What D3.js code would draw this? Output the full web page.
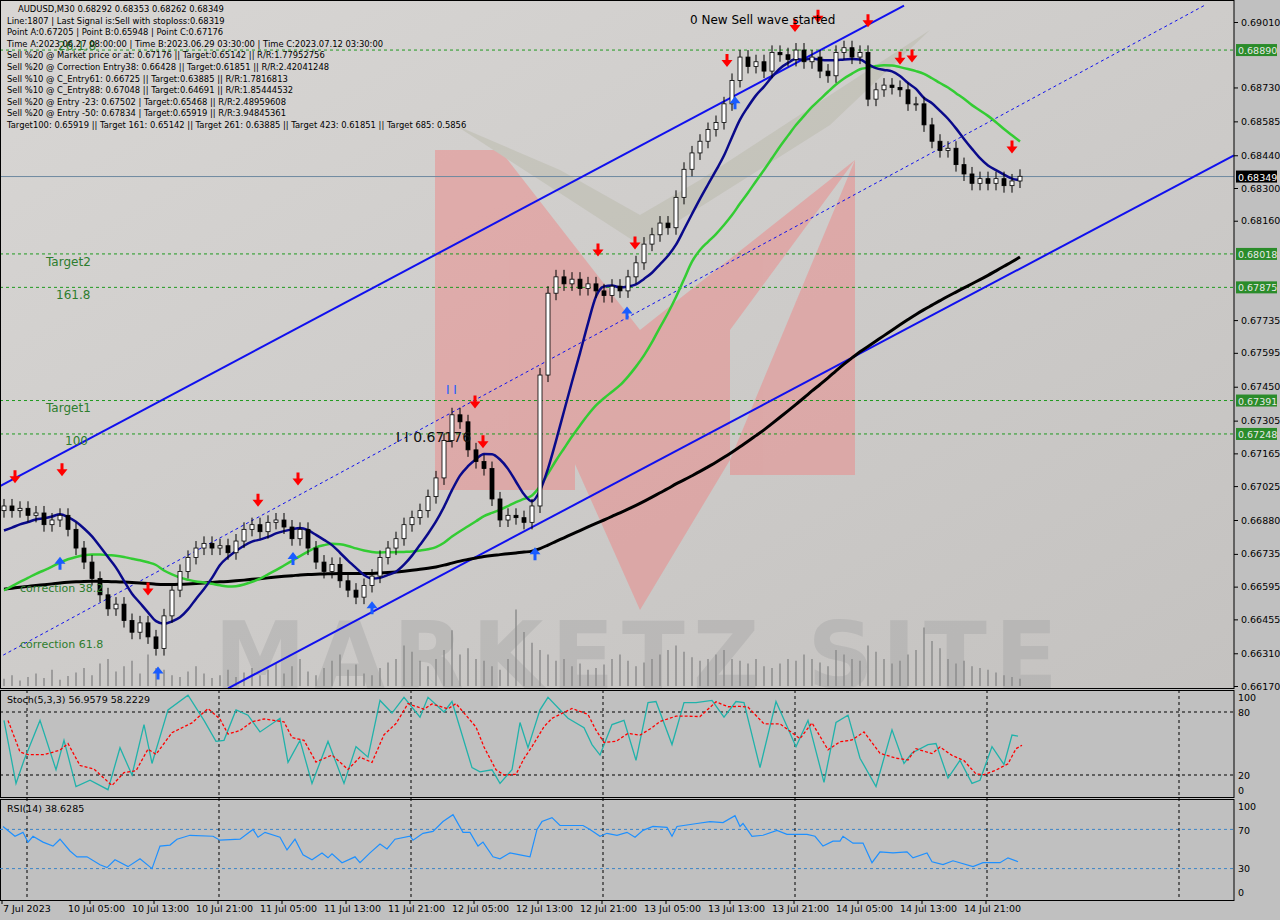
<!DOCTYPE html>
<html><head><meta charset="utf-8">
<script src="https://cdn.jsdelivr.net/npm/d3@7"></script>
<style>
body{margin:0;background:#fff;font-family:Tahoma,"DejaVu Sans",sans-serif}
svg text{font-family:"DejaVu Sans",sans-serif}
</style></head><body>
<script>
// hourly closes, one every 2 half-hour bars
var closes = [0.6694,0.6692,0.6693,0.6690,0.6691,0.6686,0.6688,0.6690,0.6684,0.6676,
0.6670,0.6663,0.6656,0.6650,0.6652,0.6645,0.6640,0.6644,0.6638,0.6633,
0.6647,0.6658,0.6666,0.6672,0.6676,0.6678,0.6676,0.6677,0.6674,0.6679,
0.6684,0.6686,0.6683,0.6687,0.6688,0.6685,0.6680,0.6684,0.6676,0.6670,
0.6666,0.6669,0.6662,0.6658,0.6655,0.6660,0.6664,0.6672,0.6676,0.6680,
0.6686,0.6689,0.6692,0.6698,0.6706,0.6722,0.6733,0.6730,0.6718,0.6713,
0.6710,0.6697,0.6688,0.6690,0.6689,0.6687,0.6694,0.6750,0.6785,0.6792,
0.6789,0.6791,0.6787,0.6789,0.6786,0.6784,0.6788,0.6786,0.6792,0.6798,
0.6806,0.6810,0.6815,0.6813,0.6826,0.6838,0.6845,0.6850,0.6855,0.6858,
0.6866,0.6876,0.6886,0.6882,0.6884,0.6880,0.6888,0.6887,0.6885,0.6889,
0.6884,0.6886,0.6880,0.6878,0.6888,0.6890,0.6886,0.6888,0.6868,0.6872,
0.6874,0.6873,0.6872,0.6866,0.6866,0.6857,0.6850,0.6846,0.6847,0.6840,
0.6836,0.6832,0.6834,0.6832,0.6834,0.6831,0.6833,0.6835];
var volume = [8,12,6,10,14,9,18,7,11,15,20,12,25,30,16,22,28,14,35,20,
18,12,10,16,22,14,9,12,18,10,15,20,12,18,25,14,22,30,16,12,
20,28,35,18,24,14,12,20,26,30,45,38,28,22,30,40,62,35,42,30,
28,22,18,30,85,60,48,40,35,28,30,22,25,18,20,24,30,35,28,22,
26,30,35,40,45,38,32,28,30,35,40,30,28,25,30,22,20,25,30,28,
35,30,26,22,40,35,30,28,45,38,30,25,28,35,40,65,50,42,30,25,
28,22,20,18,15,12,10,8];
var priceTicks = [0.69010,0.68730,0.68585,0.68440,0.68300,0.68160,0.67735,0.67595,0.67450,0.67305,0.67165,0.67025,0.66880,0.66735,0.66595,0.66455,0.66310,0.66170];
var levels = [0.68890,0.68018,0.67875,0.67391,0.67248];
var lastPrice = 0.68349;
var timeLabels = ["7 Jul 2023","10 Jul 05:00","10 Jul 13:00","10 Jul 21:00","11 Jul 05:00","11 Jul 13:00","11 Jul 21:00","12 Jul 05:00","12 Jul 13:00","12 Jul 21:00","13 Jul 05:00","13 Jul 13:00","13 Jul 21:00","14 Jul 05:00","14 Jul 13:00","14 Jul 21:00"];
var timeLabelPos = [0.5,22.5,38.5,54.5,70.5,86.5,102.5,118.5,134.5,150.5,166.5,182.5,198.5,214.5,230.5,246.5];
var gridPos = [6.75,54.75,102.75,150.75,198.75,246.75,294.75];
var stochPos = [1,4,6,10,14,16,19,22.5,27,30,33,36,38,42,47,51,54,56,59,62,65,70,72,75,78,82,86,89,92,95,98,101,105,107,111,113,118,120,123,125,128,130,
132,135,137,142,146,148,150,153,156,159,162,164,168,171,174,178,181,184,186,190,194,199,202,206,209,212,215,219,223,226,228,232,234,237,240,243,245,248,251,253,254.5];
var stochK = [72,12,34,72,25,53,9,15,6,46,20,68,31,82,96,72,52,53,82,77,61,74,32,53,12,52,12,47,37,91,79,94,75,94,80,90,27,23,25,12,25,70,
46,82,94,74,65,49,39,68,72,34,89,90,49,89,89,91,75,90,89,27,90,47,72,13,70,77,36,9,63,31,41,49,50,17,34,12,15,47,30,58,57];
var rsiPos = [0.75,3.75,5.75,7,8.25,10.75,13.25,15,17.5,19.25,21.75,25,26.75,28.75,32,35,38,40,42.5,44.25,47.5,53.25,55,60,63.25,64.5,66.25,70,71.75,73.75,75.75,78,80.5,82,83,85.5,88.75,90,92.5,95,96.75,98.75,102.5,103.25,105.75,108.25,110.75,113.25,115.75,117.5,119.5,120.75,123.25,125,127.5,130,
132.5,134.25,135.5,138,140,145.75,147.5,150,151.75,154.25,156.75,158.75,160.75,163.25,166.75,168,169.25,174.25,177.5,180.75,183.75,185,185.75,188,190.75,194.25,196.75,201.75,203.75,205.75,208.25,210,210.75,213.25,215.75,218,220,223.25,226.75,228.25,231.75,233,235.75,238.25,243.25,245.75,250,252,254.5];
var rsiVal = [73,63,67,57,63,57,53,60,48,42,42,34,31,39,32,40,30,53,54,60,64,63,59,60,70,62,67,62,49,60,44,39,46,41,45,36,42,36,46,55,50,60,63,59,66,68,78,85,67,67,53,57,42,40,46,44,
42,70,78,82,74,74,70,63,66,64,67,62,69,73,72,63,73,76,78,77,84,73,76,63,64,69,65,65,63,53,58,58,63,56,56,36,47,46,47,41,46,37,34,38,32,36,36,41,37];
var sellArrowPos = [3.75,15.5,37,64.5,74.5,118.75,120.75,149.5,158.75,181.75,198.75,204.5,217,225,228,253];
var sellArrowPrice = [0.6699,0.6702,0.6651,0.6689,0.6698,0.6731,0.6714,0.6796,0.6799,0.6877,0.6892,0.6896,0.6894,0.6878,0.6879,0.6840];
var buyArrowPos = [15,39.5,73.25,93,133.75,156.75,183.75];
var buyArrowPrice = [0.6677,0.6630,0.6679,0.6658,0.6681,0.6784,0.6874];
// channel lines: [pos, price] pairs
var chUpper = [[-0.5,0.6702],[226,0.6908]];
var chLower = [[57,0.6616],[308.5,0.6844]];
var chMid = [[-0.5,0.6629],[301,0.6908]];

var W = 1280, H = 920, plotR = 1234;
var svg = d3.select("body").append("svg").attr("width", W).attr("height", H);

var defs = svg.append("defs");
var gr = defs.append("linearGradient").attr("id","bg").attr("x1","0").attr("y1","0").attr("x2","1").attr("y2","1");
gr.append("stop").attr("offset","0").attr("stop-color","#d8d6d4");
gr.append("stop").attr("offset","1").attr("stop-color","#c4c2c0");

svg.append("rect").attr("width",W).attr("height",H).attr("fill","#c0c0c0");
svg.append("rect").attr("x",0).attr("y",0).attr("width",plotR).attr("height",688).attr("fill","url(#bg)");

var x = d3.scaleLinear().domain([0, 308.5]).range([0, plotR]);
var y = d3.scaleLinear().domain([0.66170, 0.69010]).range([686, 22]);
var yS = d3.scaleLinear().domain([0,100]).range([796, 691]);
var yR = d3.scaleLinear().domain([0,100]).range([898, 800]);

var main = svg.append("g");

// watermark
var wm = main.append("g").attr("opacity",0.45);
wm.append("path").attr("d","M435,150 L500,150 L640,330 L640,610 Z M435,150 L575,330 L575,490 L435,490 Z").attr("fill","#f08080");
wm.append("path").attr("d","M855,160 L855,475 L730,475 L730,330 Z M855,160 L640,330 L640,610 L730,460 Z").attr("fill","#f08080");
wm.append("path").attr("d","M455,125 L640,245 L830,125 L930,30 L700,180 L640,215 L560,170 Z").attr("fill","#b8b8a8");
wm.append("text").attr("x",640).attr("y",688).attr("text-anchor","middle").attr("font-size",92).attr("font-weight","bold")
  .attr("fill","#a8a8a8").attr("letter-spacing",8).text("MARKETZ SITE");

// volumes
var vy = d3.scaleLinear().domain([0,100]).range([686, 596]);
main.selectAll(".vol").data(volume).enter().append("line")
  .attr("x1",(d,i)=>x(1+2*i)).attr("x2",(d,i)=>x(1+2*i))
  .attr("y1",686).attr("y2",d=>vy(d)).attr("stroke","#8c8c8c").attr("stroke-width",1.5);

// levels
levels.forEach(function(l){
  main.append("line").attr("x1",0).attr("x2",plotR).attr("y1",y(l)).attr("y2",y(l))
    .attr("stroke","#1f9a1f").attr("stroke-dasharray","3,3");
});
main.append("line").attr("x1",0).attr("x2",plotR).attr("y1",y(lastPrice)).attr("y2",y(lastPrice))
  .attr("stroke","#6f8aa0").attr("stroke-width",1);

// channels
var chLine = d3.line().x(d=>x(d[0])).y(d=>y(d[1]));
main.append("path").attr("d",chLine(chUpper)).attr("stroke","#1010ee").attr("stroke-width",2).attr("fill","none");
main.append("path").attr("d",chLine(chLower)).attr("stroke","#1010ee").attr("stroke-width",2).attr("fill","none");
main.append("path").attr("d",chLine(chMid)).attr("stroke","#1010ee").attr("stroke-width",1).attr("stroke-dasharray","3,3").attr("fill","none");

// moving averages
function sma(n, pad){
  var src = d3.range(n).map(()=>pad).concat(closes);
  return closes.map((c,i)=>d3.mean(src.slice(i+1, i+n+1)));
}
var ln = d3.line().x((d,i)=>x(1+2*i)).y(d=>y(d)).curve(d3.curveMonotoneX);
main.append("path").attr("d",ln(sma(85,0.6658))).attr("stroke","#000").attr("stroke-width",3).attr("fill","none");
main.append("path").attr("d",ln(sma(20,0.6656))).attr("stroke","#33cc33").attr("stroke-width",2.5).attr("fill","none");
main.append("path").attr("d",ln(sma(8,0.6682))).attr("stroke","#0a0a8a").attr("stroke-width",2.5).attr("fill","none");

// candles
var cg = main.append("g");
closes.forEach(function(c,i){
  var o = i ? closes[i-1] : c - 0.0002;
  var hi = Math.max(o,c) + 0.0003, lo = Math.min(o,c) - 0.0003;
  var cx = x(1+2*i);
  cg.append("line").attr("x1",cx).attr("x2",cx).attr("y1",y(hi)).attr("y2",y(lo)).attr("stroke","#000");
  cg.append("rect").attr("x",cx-2).attr("width",4)
    .attr("y",y(Math.max(o,c))).attr("height",Math.max(1,Math.abs(y(o)-y(c))))
    .attr("fill",c>=o?"#fff":"#000").attr("stroke","#000").attr("stroke-width",0.8);
});

// arrows
sellArrowPos.forEach(function(p,i){
  var ax = x(p), ay = y(sellArrowPrice[i]) - 16;
  main.append("path").attr("d",`M${ax-1.5},${ay-8} h3 v6 h4 l-5.5,7 l-5.5,-7 h4 z`).attr("fill","#f00");
});
buyArrowPos.forEach(function(p,i){
  var ax = x(p), ay = y(buyArrowPrice[i]) + 16;
  main.append("path").attr("d",`M${ax-1.5},${ay+8} h3 v-6 h4 l-5.5,-7 l-5.5,7 h4 z`).attr("fill","#1a5cff");
});

// labels on chart
function t(g,xx,yy,s,col,size){ return g.append("text").attr("x",xx).attr("y",yy).attr("font-size",size||11).attr("fill",col||"#000").text(s); }
t(main,46,266,"Target2","#2e7d2e",12); t(main,56,299,"161.8","#2e7d2e",12);
t(main,46,412,"Target1","#2e7d2e",12); t(main,65,445,"100","#2e7d2e",12);
t(main,20,592,"correction 38.2","#2e7d2e",11); t(main,20,648,"correction 61.8","#2e7d2e",11);
t(main,396,442,"I I 0.67176","#111",14);
t(main,446,394,"I I","#1a5cff",12);
t(main,690,24,"0 New Sell wave started","#000",12);
t(main,58,50,"26.1.8","#2e7d2e",12);

var info = ["AUDUSD,M30  0.68292 0.68353 0.68262 0.68349",
"Line:1807 | Last Signal is:Sell with stoploss:0.68319",
"Point A:0.67205 | Point B:0.65948 | Point C:0.67176",
"Time A:2023.06.27 08:00:00 | Time B:2023.06.29 03:30:00 | Time C:2023.07.12 03:30:00",
"Sell %20 @ Market price or at: 0.67176 || Target:0.65142 || R/R:1.77952756",
"Sell %20 @ Correction Entry38: 0.66428 || Target:0.61851 || R/R:2.42041248",
"Sell %10 @ C_Entry61: 0.66725 || Target:0.63885 || R/R:1.7816813",
"Sell %10 @ C_Entry88: 0.67048 || Target:0.64691 || R/R:1.85444532",
"Sell %20 @ Entry -23: 0.67502 | Target:0.65468 || R/R:2.48959608",
"Sell %20 @ Entry -50: 0.67834 | Target:0.65919 || R/R:3.94845361",
"Target100: 0.65919 || Target 161: 0.65142 || Target 261: 0.63885 || Target 423: 0.61851 || Target 685: 0.5856"];
info.forEach(function(s,i){ t(main, i?7:18, 12+i*11.6, s, "#000", 8.4); });

// sub panes
function pane(y0,y1){
  svg.append("rect").attr("x",0.5).attr("y",y0+0.5).attr("width",plotR-0.5).attr("height",y1-y0).attr("fill","#c0c0c0").attr("stroke","#000");
}
pane(690,797); pane(799,900);
[80,20].forEach(v=>svg.append("line").attr("x1",0).attr("x2",plotR).attr("y1",yS(v)).attr("y2",yS(v)).attr("stroke","#000").attr("stroke-dasharray","3,3"));
[70,30].forEach(v=>svg.append("line").attr("x1",0).attr("x2",plotR).attr("y1",yR(v)).attr("y2",yR(v)).attr("stroke","#3d85c6").attr("stroke-dasharray","3,3"));
gridPos.forEach(function(p){
  svg.append("line").attr("x1",x(p)).attr("x2",x(p)).attr("y1",690).attr("y2",900).attr("stroke","#000").attr("stroke-dasharray","3,3");
});
var kPts = stochPos.map((p,i)=>[p,stochK[i]]);
var dPts = kPts.map((d,i)=>[d[0]+1, d3.mean(stochK.slice(Math.max(0,i-2), i+1))]);
var sl = d3.line().x(d=>x(d[0])).y(d=>yS(d[1]));
svg.append("path").attr("d",sl(kPts)).attr("stroke","#20b2aa").attr("stroke-width",1.3).attr("fill","none");
svg.append("path").attr("d",sl(dPts)).attr("stroke","#f00").attr("stroke-width",1.3).attr("stroke-dasharray","3,2").attr("fill","none");
var rl = d3.line().x((d,i)=>x(rsiPos[i])).y(d=>yR(d));
svg.append("path").attr("d",rl(rsiVal)).attr("stroke","#1e90ff").attr("stroke-width",1.2).attr("fill","none");
t(svg,7,703,"Stoch(5,3,3) 56.9579 58.2229","#000",9.5);
t(svg,7,812,"RSI(14) 38.6285","#000",9.5);

// main frame and right axis
svg.append("rect").attr("x",0.5).attr("y",0.5).attr("width",plotR-0.5).attr("height",688).attr("fill","none").attr("stroke","#000");
var axR = svg.append("g").attr("transform",`translate(${plotR},0)`)
  .call(d3.axisRight(y).tickValues(priceTicks).tickFormat(d3.format(".5f")).tickSize(4));
axR.select(".domain").remove();
axR.selectAll("text").attr("font-size",9.5).attr("fill","#000");
[[100,701],[80,716],[20,779],[0,794]].forEach(d=>t(svg,1238,d[1],String(d[0]),"#000",9.5));
[[100,810],[70,834],[30,872],[0,896]].forEach(d=>t(svg,1238,d[1],String(d[0]),"#000",9.5));
levels.forEach(function(l){
  svg.append("rect").attr("x",1236).attr("y",y(l)-6).attr("width",41).attr("height",12).attr("fill","#2a8c2a");
  t(svg,1238,y(l)+4,d3.format(".5f")(l),"#e8e8e8",9.5);
});
svg.append("rect").attr("x",1236).attr("y",y(lastPrice)-6).attr("width",41).attr("height",12).attr("fill","#000");
t(svg,1238,y(lastPrice)+4,d3.format(".5f")(lastPrice),"#fff",9.5);

// bottom time axis
timeLabels.forEach(function(s,i){
  var px = x(timeLabelPos[i]);
  svg.append("line").attr("x1",px).attr("x2",px).attr("y1",900).attr("y2",904).attr("stroke","#000");
  t(svg,i?px-22:px+1,912,s,"#000",9.5);
});
</script>
</body></html>
